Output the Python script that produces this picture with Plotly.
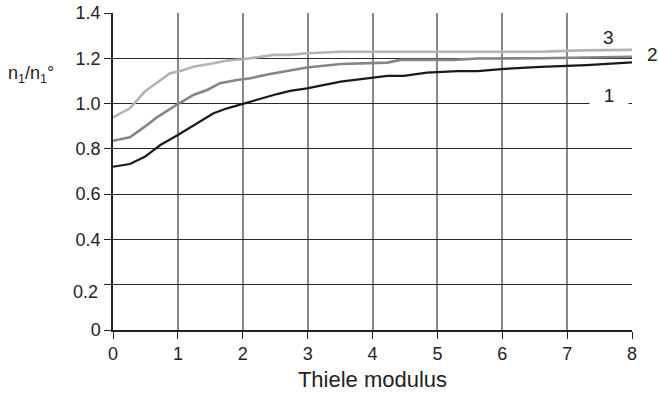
import plotly.graph_objects as go

# Thiele modulus values (x) and n1/n1° (y) for curves 1, 2, 3
x1 = [0, 0.26, 0.49, 0.73, 1.0, 1.29, 1.55, 1.76, 2.01, 2.27, 2.53, 2.73, 2.99, 3.51, 4.02, 4.23, 4.48, 4.84, 5.31, 5.62, 6.03, 6.59, 7.3, 8.0]
y1 = [0.721, 0.733, 0.765, 0.817, 0.861, 0.913, 0.957, 0.979, 1.0, 1.02, 1.042, 1.056, 1.067, 1.097, 1.116, 1.122, 1.122, 1.137, 1.143, 1.143, 1.153, 1.162, 1.170, 1.182]

x2 = [0, 0.26, 0.49, 0.67, 1.0, 1.24, 1.45, 1.65, 1.91, 2.12, 2.42, 2.73, 2.99, 3.51, 4.23, 4.43, 5.26, 5.62, 6.59, 8.0]
y2 = [0.836, 0.851, 0.898, 0.938, 0.998, 1.038, 1.06, 1.09, 1.104, 1.112, 1.131, 1.148, 1.159, 1.175, 1.181, 1.193, 1.193, 1.199, 1.2, 1.207]

x3 = [0, 0.26, 0.49, 0.67, 0.88, 1.0, 1.24, 1.55, 1.76, 2.01, 2.48, 2.73, 2.99, 3.51, 6.59, 7.2, 8.0]
y3 = [0.939, 0.979, 1.053, 1.09, 1.134, 1.141, 1.163, 1.178, 1.19, 1.196, 1.215, 1.215, 1.222, 1.229, 1.229, 1.235, 1.237]

x_ticks = [0, 1, 2, 3, 4, 5, 6, 7, 8]
y_ticks = [0, 0.2, 0.4, 0.6, 0.8, 1.0, 1.2, 1.4]
y_tick_text = ["0", " ", "0.4", "0.6", "0.8", "1.0", "1.2", "1.4"]

FONT = "Liberation Sans, Arial, sans-serif"
INK = "#222222"

fig = go.Figure()
fig.add_trace(go.Scatter(x=x3, y=y3, mode="lines", line=dict(color="#b3b3b3", width=2.6), showlegend=False))
fig.add_trace(go.Scatter(x=x2, y=y2, mode="lines", line=dict(color="#858585", width=2.6), showlegend=False))
fig.add_trace(go.Scatter(x=x1, y=y1, mode="lines", line=dict(color="#1a1a1a", width=2.2), showlegend=False))

# curve labels
fig.add_annotation(x=7.64, y=1.034, xref="x", yref="y", text="1", showarrow=False,
                   font=dict(family=FONT, size=19, color=INK), bgcolor="white", width=36)
fig.add_annotation(x=7.64, y=1.29, xref="x", yref="y", text="3", showarrow=False,
                   font=dict(family=FONT, size=19, color=INK))
fig.add_annotation(x=1.053, y=1.215, xref="paper", yref="y", text="2", showarrow=False,
                   font=dict(family=FONT, size=19, color=INK))

# y-axis title (horizontal, upper left)
fig.add_annotation(x=-0.206, y=1.13, xref="paper", yref="y", xanchor="left",
                   text="n<sub>1</sub>/n<sub>1</sub>°", showarrow=False,
                   font=dict(family=FONT, size=18, color=INK))

# 0.2 tick label sits slightly below its gridline in the reference
fig.add_annotation(x=-0.026, y=0.168, xref="paper", yref="y", xanchor="right",
                   text="0.2", showarrow=False, font=dict(family=FONT, size=18, color=INK))

fig.update_layout(
    width=658, height=394,
    margin=dict(l=113, r=26, t=13, b=64),
    plot_bgcolor="white", paper_bgcolor="white",
    font=dict(family=FONT, size=18, color=INK),
    xaxis=dict(range=[0, 8], tickvals=x_ticks, showgrid=True, gridcolor="#888888", gridwidth=1.5,
               showline=True, linecolor=INK, linewidth=1.5, ticks="outside", ticklen=7,
               tickcolor=INK, zeroline=False, tickfont=dict(size=18), automargin=False,
               title=dict(text="Thiele modulus", font=dict(size=22), standoff=8)),
    yaxis=dict(range=[0, 1.4], tickvals=y_ticks, ticktext=y_tick_text, showgrid=True,
               gridcolor="#2a2a2a", gridwidth=1, showline=True, linecolor=INK, linewidth=1.5,
               ticks="outside", ticklen=7, tickcolor=INK, zeroline=False, tickfont=dict(size=18),
               automargin=False),
)

fig.write_html("out.html", config={"displayModeBar": False},
               post_script="document.body.style.margin='0';")
